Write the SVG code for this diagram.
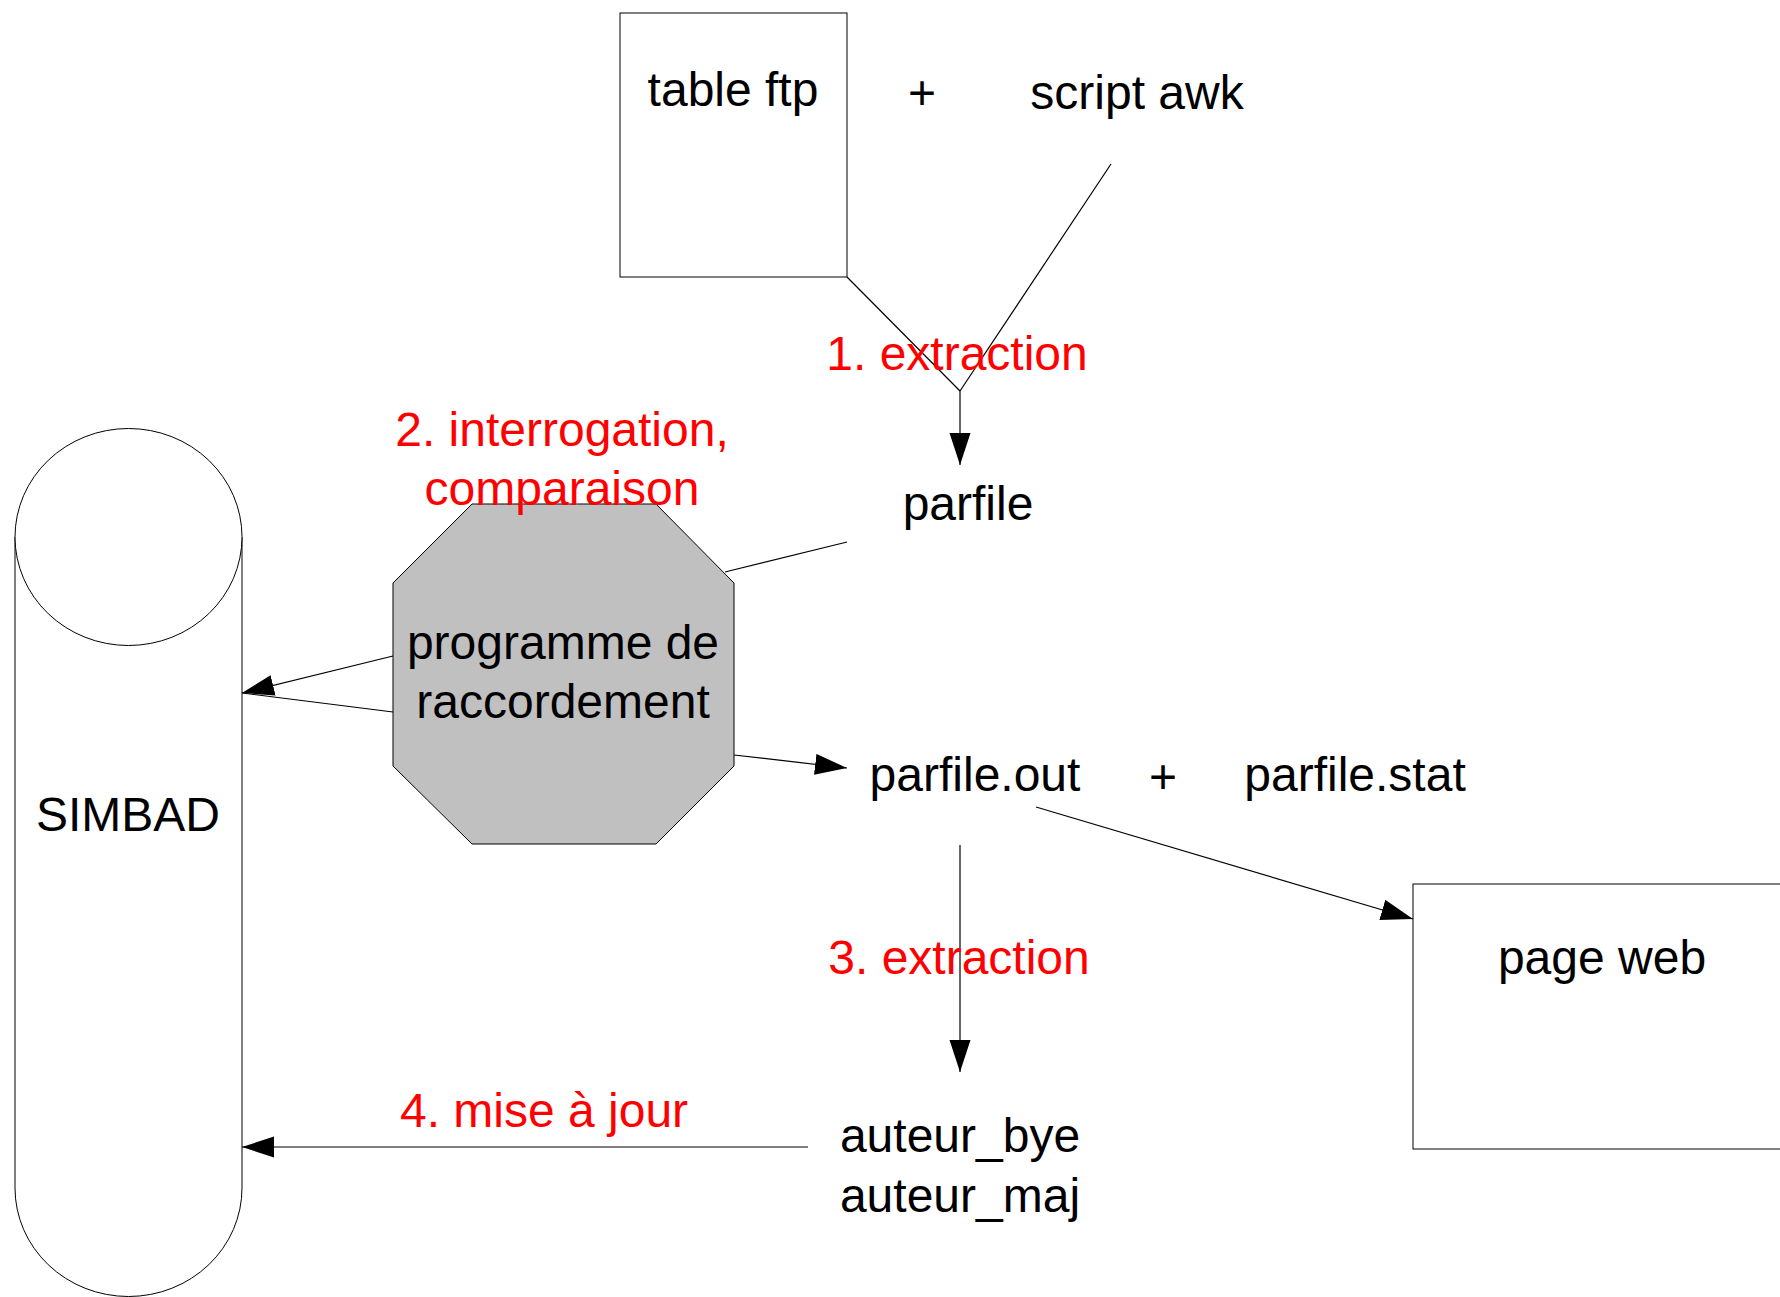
<svg xmlns="http://www.w3.org/2000/svg" width="1780" height="1297" viewBox="0 0 1780 1297">
<style>
.t{font-family:"Liberation Sans",Arial,sans-serif;font-size:48px;fill:#000;text-anchor:middle}
.r{fill:#ff0000}
.shape{fill:#fff;stroke:#000;stroke-width:1}
.line{fill:none;stroke:#000;stroke-width:1.2}
</style>
<defs>
<marker id="ah" markerUnits="userSpaceOnUse" markerWidth="33" markerHeight="22" refX="32" refY="10.5" orient="auto">
<path d="M0,0 L32,10.5 L0,21 z" fill="#000"/>
</marker>
</defs>
<rect width="1780" height="1297" fill="#fff"/>
<g id="simbad">
<path class="shape" d="M15,537 L15,1188 A113.5,108.5 0 0 0 242,1188 L242,537"/>
<ellipse class="shape" cx="128.5" cy="537" rx="113.5" ry="108.5"/>
<text class="t" x="128" y="831">SIMBAD</text>
</g>
<g id="table-ftp">
<rect class="shape" x="620" y="13" width="227" height="264"/>
<text class="t" x="733" y="106">table ftp</text>
</g>
<g id="plus1"><text class="t" x="922" y="109">+</text></g>
<g id="script-awk"><text class="t" x="1137" y="109">script awk</text></g>
<g id="parfile"><text class="t" x="968" y="520">parfile</text></g>
<g id="programme">
<polygon points="472,504 656,504 734,583 734,766 656,844 472,844 393,766 393,583" fill="#c0c0c0" stroke="#000" stroke-width="1"/>
<text class="t" x="563" y="659">programme de</text>
<text class="t" x="563" y="718">raccordement</text>
</g>
<g id="parfile-out"><text class="t" x="975" y="791">parfile.out</text></g>
<g id="plus2"><text class="t" x="1163" y="793">+</text></g>
<g id="parfile-stat"><text class="t" x="1355" y="791">parfile.stat</text></g>
<g id="page-web">
<rect class="shape" x="1413" y="884" width="400" height="265"/>
<text class="t" x="1602" y="974">page web</text>
</g>
<g id="auteur">
<text class="t" x="960" y="1152">auteur_bye</text>
<text class="t" x="960" y="1212">auteur_maj</text>
</g>
<g id="connectors">
<line class="line" x1="847" y1="277" x2="960" y2="391"/>
<line class="line" x1="1111" y1="164" x2="960" y2="391"/>
<line class="line" x1="960" y1="391" x2="960" y2="465" marker-end="url(#ah)"/>
<line class="line" x1="847" y1="542" x2="725" y2="572"/>
<line class="line" x1="393" y1="656" x2="242" y2="693" marker-end="url(#ah)"/>
<line class="line" x1="393" y1="712" x2="242" y2="693"/>
<line class="line" x1="734" y1="755" x2="847" y2="768" marker-end="url(#ah)"/>
<line class="line" x1="1036" y1="807" x2="1413" y2="919" marker-end="url(#ah)"/>
<line class="line" x1="960" y1="845" x2="960" y2="1072" marker-end="url(#ah)"/>
<line class="line" x1="808" y1="1147" x2="242" y2="1147" marker-end="url(#ah)"/>
</g>
<g id="labels">
<text class="t r" x="957" y="370">1. extraction</text>
<text class="t r" x="562" y="446">2. interrogation,</text>
<text class="t r" x="562" y="505">comparaison</text>
<text class="t r" x="959" y="974">3. extraction</text>
<text class="t r" x="544" y="1127">4. mise à jour</text>
</g>
</svg>
